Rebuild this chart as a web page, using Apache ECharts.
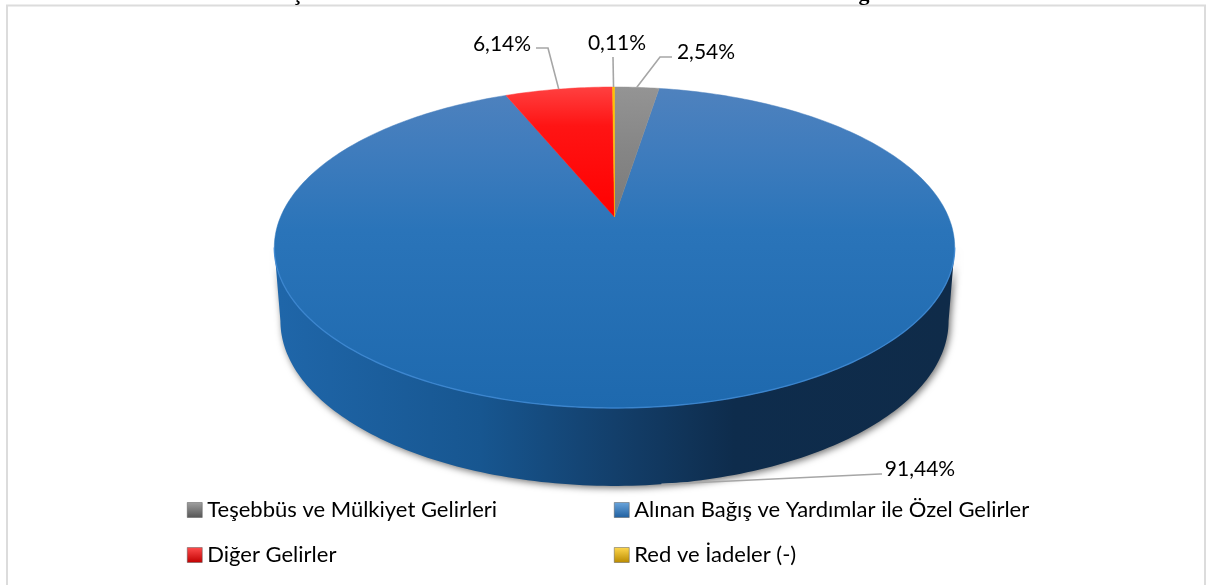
<!DOCTYPE html>
<html><head><meta charset="utf-8">
<script src="https://cdn.jsdelivr.net/npm/echarts@6/dist/echarts.min.js"></script>
<style>html,body{margin:0;padding:0;background:#fff}#c{width:1206px;height:585px}</style>
</head><body><div id="c"></div>
<script>
const categories = ['Teşebbüs ve Mülkiyet Gelirleri','Alınan Bağış ve Yardımlar ile Özel Gelirler','Diğer Gelirler','Red ve İadeler (-)'];
const values = [2.54, 91.44, 6.14, 0.11];
const valueLabels = ['2,54%','91,44%','6,14%','0,11%'];

const FONT = 'Lato';
const TOTAL = values.reduce((a,b)=>a+b,0);
// perspective disc: projective map of a circle
const K = 0.19, CX = 614.5;
const TOP = {y:217, w:334, a:154.7};
const BOT = {y:289.6, w:328, a:159};
function rim(deg, d){
  const t = deg*Math.PI/180, u = Math.sin(t), v = Math.cos(t), q = 1+K*v;
  return [CX + d.w*u/q, d.y - d.a*v/q];
}
function arc(a0, a1, d){
  const pts = [], n = Math.max(2, Math.ceil((a1-a0)));
  for(let i=0;i<=n;i++) pts.push(rim(a0+(a1-a0)*i/n, d));
  return pts;
}
const FRONT0 = Math.acos(-K)*180/Math.PI, FRONT1 = 360-FRONT0;

function grad(x,y,x2,y2,stops,global){
  return {type:'linear',x,y,x2,y2,global:global!==false,colorStops:stops.map(s=>({offset:s[0],color:s[1]}))};
}
const topFills = [
  grad(0,87,0,217,[[0,'#949494'],[0.5,'#858585'],[1,'#7A7A7A']]),
  grad(0,87,0,407,[[0,'#4F82BE'],[0.2,'#3F7CBD'],[0.45,'#2A74B9'],[1,'#1E69AE']]),
  grad(0,87,0,217,[[0,'#FF4040'],[0.3,'#FF1414'],[1,'#FF0000']]),
  grad(0,87,0,217,[[0,'#FFC000'],[1,'#FFC000']])
];
const legendFills = [
  grad(0,0,0,1,[[0,'#A0A0A0'],[1,'#555555']],false),
  grad(0,0,0,1,[[0,'#6AA5DC'],[1,'#1F5F9F']],false),
  grad(0,0,0,1,[[0,'#FF4D4D'],[1,'#C00000']],false),
  grad(0,0,0,1,[[0,'#FFD84D'],[1,'#B98A00']],false)
];
const wallFill = grad(280,0,948,0,[[0,'#1F66A9'],[0.3,'#175690'],[0.5,'#133F6B'],[0.68,'#0E2C4C'],[1,'#0F2B49']]);

// label layout: [text x, text y, elbow x, elbow y, end x, end y]
const labelLayout = [
  [706,52, 660,57, 672,57],
  [920,469, 880,474, 882,474],
  [502,44, 548,48, 536,48],
  [617,43, 613,57, 613,57]
];

function renderSlice(i){
  const start = values.slice(0,i).reduce((a,b)=>a+b,0)/TOTAL*360;
  return function(params, api){
    const sweep = api.value(0)/TOTAL*360, a0 = start, a1 = start+sweep;
    const children = [];
    const f0 = Math.max(a0,FRONT0), f1 = Math.min(a1,FRONT1);
    if(f1>f0){
      children.push({type:'polygon',silent:true,
        shape:{points:arc(f0,f1,TOP).concat(arc(f0,f1,BOT).reverse())},
        style:{fill:wallFill,shadowBlur:7,shadowColor:'rgba(0,0,0,0.55)',shadowOffsetX:2,shadowOffsetY:2}});
    }
    children.push({type:'polygon',shape:{points:[[CX,TOP.y]].concat(arc(a0,a1,TOP))},
      style:{fill:topFills[i],stroke:topFills[i],lineWidth:0.5}});
    if(f1>f0){
      children.push({type:'polyline',silent:true,shape:{points:arc(f0,f1,TOP)},
        style:{fill:null,stroke:'#3F8AD4',lineWidth:1.4,opacity:0.8}});
    }
    const mid = a0+sweep/2;
    const anchor = (mid>FRONT0 && mid<FRONT1) ? rim(mid,BOT) : rim(mid,TOP);
    const L = labelLayout[i];
    children.push({type:'polyline',silent:true,z2:10,shape:{points:[anchor,[L[2],L[3]],[L[4],L[5]]]},
      style:{fill:null,stroke:'#A6A6A6',lineWidth:1.6}});
    children.push({type:'text',silent:true,z2:11,style:{text:valueLabels[i],x:L[0],y:L[1],
      font:'21px '+FONT,fill:'#000',align:'center',verticalAlign:'middle'}});
    return {type:'group',children};
  };
}

const legendBase = {orient:'vertical',icon:'rect',itemWidth:15,itemHeight:15,itemGap:23,selectedMode:false,
  padding:0,textStyle:{fontFamily:FONT,fontSize:22,color:'#000'}};
const legendItem = i => ({name:categories[i],itemStyle:{color:legendFills[i],borderColor:'#5a5a5a',borderWidth:0.5}});

const chart = echarts.init(document.getElementById('c'),null,{renderer:'canvas'});
chart.setOption({
  animation:false,
  backgroundColor:'#fff',
  legend:[
    Object.assign({},legendBase,{left:187,top:499,data:[legendItem(0),legendItem(2)]}),
    Object.assign({},legendBase,{left:614,top:499,data:[legendItem(1),legendItem(3)]})
  ],
  graphic:[
    {type:'polyline',silent:true,shape:{points:[[7,585],[7,5.5],[1205,5.5],[1205,585]]},style:{fill:null,stroke:'#DCDCDC',lineWidth:2}},
    {type:'text',silent:true,x:297,y:5,style:{text:'Ç',font:'bold 22px "Liberation Serif"',fill:'#000',align:'center',verticalAlign:'bottom'}},
    {type:'text',silent:true,x:864,y:5,style:{text:'g',font:'bold 22px "Liberation Serif"',fill:'#000',align:'center',verticalAlign:'bottom'}}
  ],
  series:categories.map((name,i)=>({
    type:'custom',name,coordinateSystem:'none',data:[[values[i]]],
    renderItem:renderSlice(i),z:i===1?1:2,silent:true
  }))
});
</script></body></html>
